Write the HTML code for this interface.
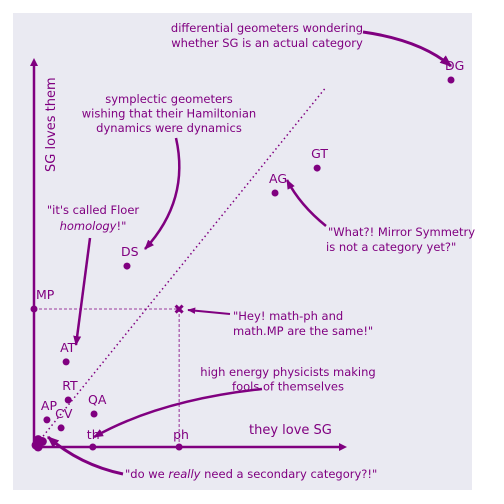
<!DOCTYPE html>
<html><head><meta charset="utf-8"><style>
body{margin:0;background:#fff}
svg{display:block;font-family:"DejaVu Sans","Liberation Sans",sans-serif}
text{fill:#800080}
</style></head><body>
<svg width="504" height="504" viewBox="0 0 504 504">
<defs>
<marker id="ah" viewBox="0 0 10 10" refX="9" refY="5" markerWidth="4" markerHeight="4" orient="auto" markerUnits="strokeWidth"><path d="M0,1 L10,5 L0,9 z" fill="#800080"/></marker>
</defs>
<rect x="13" y="13" width="459" height="477" fill="#eaeaf2"/>
<g id="guides"></g>
<g id="axes">
 <line x1="34" y1="447" x2="34" y2="64" stroke="#800080" stroke-width="2.5"/>
 <polygon points="34,58 30,66 38,66" fill="#800080"/>
 <line x1="34" y1="447" x2="340" y2="447" stroke="#800080" stroke-width="2.5"/>
 <polygon points="347,447 339,443 339,451" fill="#800080"/>
 <text x="0" y="0" font-size="13" transform="translate(55,172) rotate(-90)">SG loves them</text>
 <text x="249" y="434" font-size="13">they love SG</text>
</g>
<g id="marks"></g>
<g id="notes" font-size="11.5" fill="none">
 <text x="267" y="32" text-anchor="middle"><tspan x="267">differential geometers wondering</tspan><tspan x="267" dy="15">whether SG is an actual category</tspan></text>
 <path d="M363,32 Q420,40 451,66" stroke="#800080" stroke-width="3" fill="none" marker-end="url(#ah)"/>
 <text x="169" y="103" text-anchor="middle"><tspan x="169">symplectic geometers</tspan><tspan x="169" dy="14.5">wishing that their Hamiltonian</tspan><tspan x="169" dy="14.5">dynamics were dynamics</tspan></text>
 <path d="M176,138 Q190,200 145,249" stroke="#800080" stroke-width="2.5" fill="none" marker-end="url(#ah)"/>
 <text x="93" y="214" text-anchor="middle"><tspan x="93">"it's called Floer</tspan><tspan x="93" dy="16"><tspan font-style="italic">homology</tspan>!"</tspan></text>
 <path d="M90,238 L76,345" stroke="#800080" stroke-width="2.5" fill="none" marker-end="url(#ah)"/>
 <text x="328" y="236"><tspan x="328">"What?! Mirror Symmetry</tspan><tspan x="326" dy="15">is not a category yet?"</tspan></text>
 <path d="M326,226 Q300,205 287,180" stroke="#800080" stroke-width="2.5" fill="none" marker-end="url(#ah)"/>
 <text x="233" y="320"><tspan x="233">"Hey! math-ph and</tspan><tspan x="233" dy="15">math.MP are the same!"</tspan></text>
 <path d="M230,314 L188,310" stroke="#800080" stroke-width="2" fill="none" marker-end="url(#ah)"/>
 <text x="288" y="376" text-anchor="middle"><tspan x="288">high energy physicists making</tspan><tspan x="288" dy="14.5">fools of themselves</tspan></text>
 <path d="M262,389 Q160,400 94,437" stroke="#800080" stroke-width="2.5" fill="none" marker-end="url(#ah)"/>
 <text x="125" y="478">"do we <tspan font-style="italic">really</tspan> need a secondary category?!"</text>
 <path d="M123,474 Q80,465 48,437" stroke="#800080" stroke-width="3" fill="none" marker-end="url(#ah)"/>
</g>
</svg>
<script>
const labels=["DG","GT","AG","DS","MP","AT","RT","QA","AP","CV","th","ph","","","",""];
const xs=[100,67.9,57.8,22.3,0,7.7,8.2,14.4,3.1,6.5,14.1,34.8,1,0.5,2,1];
const ys=[100,76,69.2,49.3,37.6,23.2,12.8,9.0,7.4,5.2,0,0,2,0.5,1.5,0];
const crossX=[34.8], crossY=[37.6];
const X=v=>34+v*4.17, Y=v=>447-v*3.67;
const NS="http://www.w3.org/2000/svg";
const marks=document.getElementById('marks'), guides=document.getElementById('guides');
function mk(t,a,p){const e=document.createElementNS(NS,t);for(const k in a)e.setAttribute(k,a[k]);p.appendChild(e);return e;}
const diag=mk('line',{x1:X(1.5),y1:Y(2),x2:X(70),y2:Y(98),stroke:'#800080','stroke-width':1.5,'stroke-dasharray':'1.5 3'},guides);


const h=mk('line',{x1:X(0),y1:Y(crossY[0]),x2:X(crossX[0]),y2:Y(crossY[0]),stroke:'#800080','stroke-width':0.8,'stroke-dasharray':'3 2'},guides);


const v=mk('line',{x1:X(crossX[0]),y1:Y(crossY[0]),x2:X(crossX[0]),y2:Y(0),stroke:'#800080','stroke-width':0.8,'stroke-dasharray':'3 2'},guides);


const cx=X(crossX[0]),cy=Y(crossY[0]);
const cr=mk('path',{d:`M${cx-3.5},${cy-3.5}L${cx+3.5},${cy+3.5}M${cx+3.5},${cy-3.5}L${cx-3.5},${cy+3.5}`,stroke:'#800080','stroke-width':3},marks);


xs.forEach((x,i)=>{
 const c=mk('circle',{cx:X(x),cy:Y(ys[i]),r:i>=12?4.5:3.5,fill:'#800080'},marks);
 
 
 if(labels[i]){
  const lx=X(x)+(labels[i]==="MP"?2:-6), ly=Y(ys[i])-(ys[i]==0?8:10);
  const t=mk('text',{x:lx,y:ly,'font-size':12.5},marks);
  t.textContent=labels[i];
  
  
 }
});
</script>
</body></html>
